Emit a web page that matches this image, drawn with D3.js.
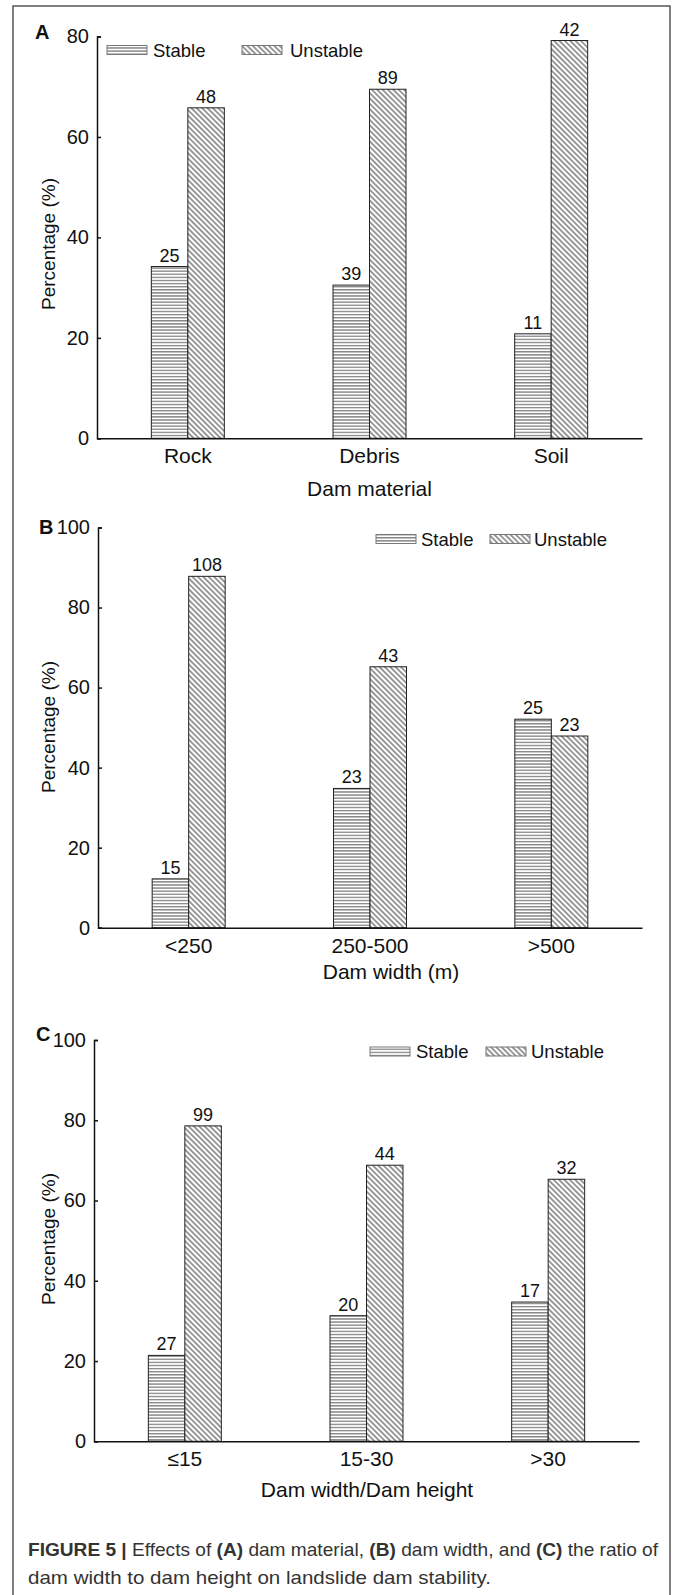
<!DOCTYPE html>
<html>
<head>
<meta charset="utf-8">
<script src="https://cdn.jsdelivr.net/npm/d3@7"></script>
<style>
  body { margin: 0; background: #fff; }
  text { font-family: "Liberation Sans", Arial, sans-serif; fill: #111; }
</style>
</head>
<body>
<div id="chart"></div>
<script>
// 数据：百分比（柱高）和样本数（柱顶标注）
const seriesNames = ["Stable", "Unstable"];

const materialCats = ["Rock", "Debris", "Soil"];
const materialStable = [34.2, 30.5, 20.8];
const materialUnstable = [65.8, 69.5, 79.2];
const materialStableN = [25, 39, 11];
const materialUnstableN = [48, 89, 42];
const materialTicks = [0, 20, 40, 60, 80];

const widthCats = ["<250", "250-500", ">500"];
const widthStable = [12.2, 34.8, 52.1];
const widthUnstable = [87.8, 65.2, 47.9];
const widthStableN = [15, 23, 25];
const widthUnstableN = [108, 43, 23];
const widthTicks = [0, 20, 40, 60, 80, 100];

const ratioCats = ["≤15", "15-30", ">30"];
const ratioStable = [21.4, 31.3, 34.7];
const ratioUnstable = [78.6, 68.8, 65.3];
const ratioStableN = [27, 20, 17];
const ratioUnstableN = [99, 44, 32];
const ratioTicks = [0, 20, 40, 60, 80, 100];

const W = 675, H = 1595;

var svg = d3.select("#chart").append("svg")
    .attr("width", W).attr("height", H);

var defs = svg.append("defs");

// 横线填充（Stable）
var pH = defs.append("pattern")
    .attr("id", "hatch_h")
    .attr("patternUnits", "userSpaceOnUse")
    .attr("width", 6).attr("height", 3.1);
pH.append("rect").attr("width", 6).attr("height", 3.1).attr("fill", "#fff");
pH.append("line")
    .attr("x1", 0).attr("x2", 6).attr("y1", 1.5).attr("y2", 1.5)
    .attr("stroke", "#444").attr("stroke-width", 0.9);

// 斜线填充（Unstable）
var pD = defs.append("pattern")
    .attr("id", "hatch_d")
    .attr("patternUnits", "userSpaceOnUse")
    .attr("width", 3.8).attr("height", 3.8)
    .attr("patternTransform", "rotate(45)");
pD.append("rect").attr("width", 3.8).attr("height", 3.8).attr("fill", "#fff");
pD.append("line")
    .attr("x1", 0).attr("x2", 3.8).attr("y1", 1.9).attr("y2", 1.9)
    .attr("stroke", "#222").attr("stroke-width", 0.9);

var fills = {"Stable": "url(#hatch_h)", "Unstable": "url(#hatch_d)"};

// 外框
svg.append("path")
    .attr("d", "M13," + (H + 5) + "V6H670V" + (H + 5))
    .attr("fill", "none").attr("stroke", "#555").attr("stroke-width", 1.5);

var panels = [
    {letter: "A", cats: materialCats, stable: materialStable, unstable: materialUnstable,
     stableN: materialStableN, unstableN: materialUnstableN, ticks: materialTicks,
     xTitle: "Dam material",
     x0: 97, x1: 642, yTop: 36.5, yBase: 438.3, letterX: 35, letterY: 39,
     xTitleX: 369.5, xTitleY: 496, yTitleY: 244,
     legend: [107, 153, 242, 290], legendY: 50},
    {letter: "B", cats: widthCats, stable: widthStable, unstable: widthUnstable,
     stableN: widthStableN, unstableN: widthUnstableN, ticks: widthTicks,
     xTitle: "Dam width (m)",
     x0: 98, x1: 642, yTop: 527.5, yBase: 927.7, letterX: 39, letterY: 534,
     xTitleX: 391, xTitleY: 979, yTitleY: 727,
     legend: [376, 421, 490, 534], legendY: 539},
    {letter: "C", cats: ratioCats, stable: ratioStable, unstable: ratioUnstable,
     stableN: ratioStableN, unstableN: ratioUnstableN, ticks: ratioTicks,
     xTitle: "Dam width/Dam height",
     x0: 94, x1: 639, yTop: 1040, yBase: 1441.3, letterX: 36, letterY: 1041,
     xTitleX: 367, xTitleY: 1497, yTitleY: 1239,
     legend: [370, 416, 486, 531], legendY: 1051.5}
];

panels.forEach(drawPanel);

function drawPanel(p) {
    var g = svg.append("g").attr("class", "panel");
    var ymax = p.ticks[p.ticks.length - 1];

    var x = d3.scaleBand().domain(p.cats).range([p.x0, p.x1]);
    var xs = d3.scaleBand().domain(seriesNames).range([-36.5, 36.5]);
    var y = d3.scaleLinear().domain([0, ymax]).range([p.yBase, p.yTop]);

    var rows = [];
    p.cats.forEach(function (c, i) {
        rows.push({cat: c, s: "Stable", v: p.stable[i], n: p.stableN[i]});
        rows.push({cat: c, s: "Unstable", v: p.unstable[i], n: p.unstableN[i]});
    });

    g.append("g").selectAll("rect")
        .data(rows)
        .enter()
        .append("rect")
        .attr("x", d => x(d.cat) + x.bandwidth() / 2 + xs(d.s))
        .attr("y", d => y(d.v))
        .attr("width", xs.bandwidth())
        .attr("height", d => y(0) - y(d.v))
        .attr("fill", d => fills[d.s])
        .attr("stroke", "#222")
        .attr("stroke-width", 1);

    g.append("g").selectAll("text")
        .data(rows)
        .enter()
        .append("text")
        .attr("x", d => x(d.cat) + x.bandwidth() / 2 + xs(d.s) + xs.bandwidth() / 2)
        .attr("y", d => y(d.v) - 5)
        .attr("text-anchor", "middle")
        .style("font-size", "18px")
        .text(d => d.n);

    // y 轴（刻度朝内）
    var ya = g.append("g")
        .attr("transform", "translate(" + p.x0 + ",0)")
        .call(d3.axisLeft(y).tickValues(p.ticks).tickSize(-4).tickPadding(8));
    ya.selectAll("path, line").attr("stroke", "#111").attr("stroke-width", 1.5);
    ya.selectAll("text").style("font-size", "20px").attr("fill", "#111")
        .style("font-family", "'Liberation Sans', Arial, sans-serif");

    // x 轴
    var xa = g.append("g")
        .attr("transform", "translate(0," + p.yBase + ")")
        .call(d3.axisBottom(x).tickSize(0).tickPadding(10));
    xa.select(".domain").attr("stroke", "#111").attr("stroke-width", 1.5);
    xa.selectAll("text").style("font-size", "21px").attr("fill", "#111")
        .style("font-family", "'Liberation Sans', Arial, sans-serif");

    g.append("text")
        .attr("x", p.xTitleX).attr("y", p.xTitleY)
        .attr("text-anchor", "middle")
        .style("font-size", "21px")
        .text(p.xTitle);

    g.append("text")
        .attr("transform", "translate(48," + p.yTitleY + ") rotate(-90)")
        .attr("text-anchor", "middle")
        .attr("dominant-baseline", "central")
        .style("font-size", "19px")
        .text("Percentage (%)");

    g.append("text")
        .attr("x", p.letterX).attr("y", p.letterY)
        .style("font-size", "20px").style("font-weight", "bold")
        .text(p.letter);

    // 图例
    var lg = g.append("g");
    seriesNames.forEach(function (s, i) {
        var sx = p.legend[i * 2], tx = p.legend[i * 2 + 1];
        lg.append("rect")
            .attr("x", sx).attr("y", p.legendY - 4.5)
            .attr("width", 40).attr("height", 9)
            .attr("fill", fills[s])
            .attr("stroke", "#777").attr("stroke-width", 1);
        lg.append("text")
            .attr("x", tx).attr("y", p.legendY)
            .attr("dominant-baseline", "central")
            .style("font-size", "18.5px")
            .text(s);
    });
}

// 图注
var cap1 = svg.append("text").attr("x", 28).attr("y", 1556)
    .style("font-size", "18.5px").style("fill", "#333")
    .attr("textLength", 630).attr("lengthAdjust", "spacingAndGlyphs");
cap1.append("tspan").style("font-weight", "bold").text("FIGURE 5 | ");
cap1.append("tspan").text("Effects of ");
cap1.append("tspan").style("font-weight", "bold").text("(A)");
cap1.append("tspan").text(" dam material, ");
cap1.append("tspan").style("font-weight", "bold").text("(B)");
cap1.append("tspan").text(" dam width, and ");
cap1.append("tspan").style("font-weight", "bold").text("(C)");
cap1.append("tspan").text(" the ratio of");

svg.append("text").attr("x", 28).attr("y", 1584)
    .style("font-size", "18.5px").style("fill", "#333")
    .attr("textLength", 463).attr("lengthAdjust", "spacingAndGlyphs")
    .text("dam width to dam height on landslide dam stability.");
</script>
</body>
</html>
